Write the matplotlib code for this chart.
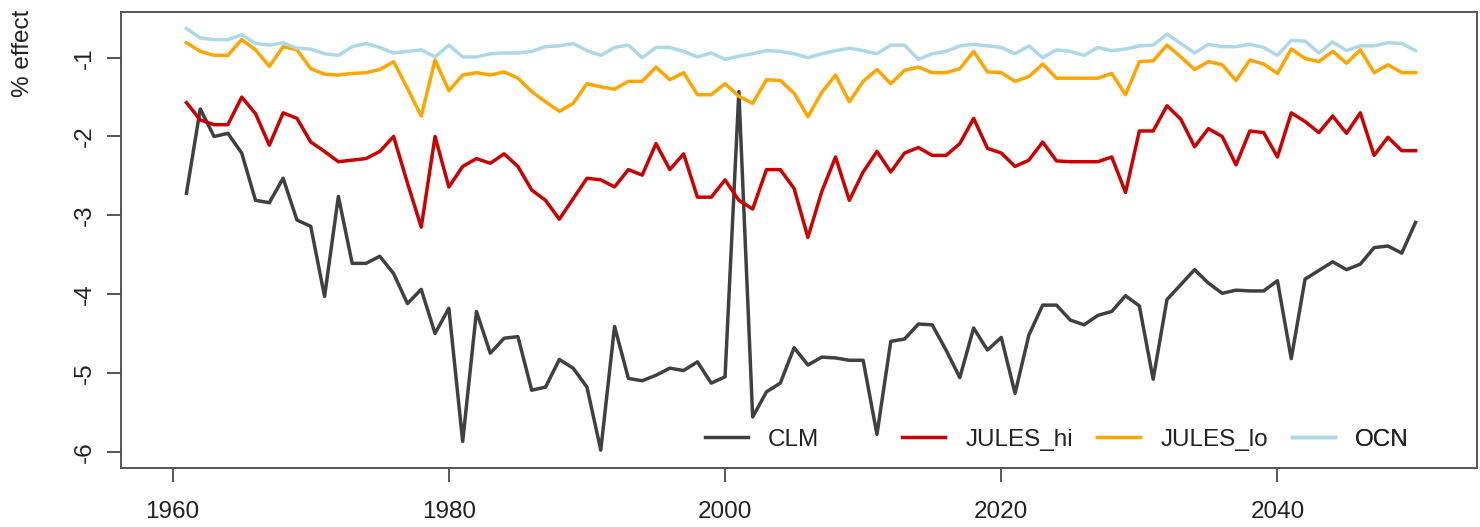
import matplotlib.pyplot as plt
import numpy as np

plt.rcParams['font.family'] = ['Liberation Sans', 'DejaVu Sans']

years = np.arange(1961, 2051)

clm = [-2.72, -1.65, -2.00, -1.96, -2.21, -2.81, -2.84, -2.53, -3.06, -3.14,
       -4.03, -2.76, -3.61, -3.61, -3.52, -3.74, -4.12, -3.94, -4.50, -4.18,
       -5.87, -4.22, -4.75, -4.56, -4.54, -5.22, -5.18, -4.83, -4.94, -5.18,
       -5.98, -4.41, -5.07, -5.10, -5.03, -4.94, -4.97, -4.86, -5.13, -5.05,
       -1.43, -5.56, -5.24, -5.13, -4.68, -4.90, -4.80, -4.81, -4.84, -4.84,
       -5.78, -4.60, -4.57, -4.38, -4.39, -4.71, -5.06, -4.43, -4.71, -4.55,
       -5.26, -4.52, -4.14, -4.14, -4.33, -4.39, -4.27, -4.22, -4.02, -4.15,
       -5.08, -4.07, -3.88, -3.69, -3.86, -3.99, -3.95, -3.96, -3.96, -3.83,
       -4.82, -3.81, -3.70, -3.59, -3.69, -3.62, -3.41, -3.39, -3.48, -3.09]

jules_hi = [-1.57, -1.79, -1.85, -1.85, -1.50, -1.71, -2.11, -1.70, -1.77, -2.07,
            -2.19, -2.32, -2.30, -2.28, -2.19, -2.00, -2.59, -3.15, -2.00, -2.64,
            -2.38, -2.28, -2.34, -2.22, -2.38, -2.68, -2.81, -3.05, -2.79, -2.53,
            -2.55, -2.64, -2.42, -2.49, -2.09, -2.42, -2.22, -2.77, -2.77, -2.55,
            -2.81, -2.92, -2.42, -2.42, -2.66, -3.28, -2.70, -2.26, -2.81, -2.45,
            -2.19, -2.45, -2.21, -2.14, -2.24, -2.24, -2.09, -1.77, -2.15, -2.21,
            -2.38, -2.30, -2.07, -2.31, -2.32, -2.32, -2.32, -2.26, -2.71, -1.93,
            -1.93, -1.61, -1.78, -2.13, -1.90, -2.00, -2.36, -1.93, -1.95, -2.26,
            -1.70, -1.81, -1.95, -1.74, -1.96, -1.70, -2.24, -2.01, -2.18, -2.18]

jules_lo = [-0.81, -0.92, -0.97, -0.97, -0.77, -0.90, -1.11, -0.86, -0.90, -1.14,
            -1.21, -1.22, -1.20, -1.19, -1.15, -1.05, -1.39, -1.74, -1.03, -1.42,
            -1.22, -1.19, -1.22, -1.18, -1.26, -1.43, -1.56, -1.68, -1.58, -1.33,
            -1.37, -1.40, -1.30, -1.30, -1.12, -1.28, -1.19, -1.47, -1.47, -1.33,
            -1.49, -1.58, -1.28, -1.29, -1.45, -1.75, -1.44, -1.22, -1.56, -1.30,
            -1.15, -1.33, -1.16, -1.12, -1.19, -1.19, -1.14, -0.92, -1.18, -1.19,
            -1.30, -1.24, -1.08, -1.26, -1.26, -1.26, -1.26, -1.20, -1.47, -1.05,
            -1.04, -0.84, -0.99, -1.15, -1.05, -1.09, -1.29, -1.03, -1.08, -1.20,
            -0.89, -1.01, -1.05, -0.92, -1.07, -0.90, -1.19, -1.09, -1.19, -1.19]

ocn = [-0.63, -0.75, -0.77, -0.77, -0.71, -0.82, -0.84, -0.81, -0.88, -0.89,
       -0.95, -0.97, -0.86, -0.82, -0.87, -0.94, -0.92, -0.90, -0.99, -0.84,
       -0.99, -0.99, -0.95, -0.94, -0.94, -0.92, -0.86, -0.85, -0.82, -0.91,
       -0.97, -0.87, -0.84, -1.00, -0.87, -0.87, -0.92, -0.99, -0.94, -1.02,
       -0.98, -0.95, -0.91, -0.92, -0.95, -1.00, -0.95, -0.91, -0.88, -0.91,
       -0.95, -0.84, -0.84, -1.02, -0.95, -0.92, -0.85, -0.83, -0.85, -0.87,
       -0.95, -0.85, -1.00, -0.90, -0.92, -0.97, -0.87, -0.91, -0.89, -0.85,
       -0.84, -0.70, -0.82, -0.94, -0.83, -0.86, -0.86, -0.83, -0.87, -0.97,
       -0.78, -0.79, -0.94, -0.80, -0.91, -0.85, -0.85, -0.81, -0.82, -0.91]

series = [('CLM', clm, '#404040'),
          ('JULES_hi', jules_hi, '#CD0000'),
          ('JULES_lo', jules_lo, '#FFA500'),
          ('OCN', ocn, '#ADD8E6')]

x_ticks = [1960, 1980, 2000, 2020, 2040]
y_ticks = [-1, -2, -3, -4, -5, -6]

frame_col = '#555555'
text_col = '#222222'

fig = plt.figure(figsize=(14.8, 5.27), dpi=100)
ax = fig.add_axes([121 / 1480, 1 - 468 / 527, 1356 / 1480, 456 / 527])

lines = []
for name, vals, col in series:
    ln, = ax.plot(years, vals, color=col, linewidth=2.5, label=name)
    lines.append(ln)

ax.set_xlim(1956.26, 2054.45)
ax.set_ylim(-6.207, -0.42)
ax.set_xticks(x_ticks)
ax.set_yticks(y_ticks)
ax.set_xticklabels([str(t) for t in x_ticks])
ax.set_yticklabels([str(t) for t in y_ticks], rotation=90, va='center')

for sp in ax.spines.values():
    sp.set_color(frame_col)
    sp.set_linewidth(1.4)

ax.tick_params(axis='both', colors=frame_col, labelcolor=text_col,
               length=10, width=1.4, labelsize=17.5)
ax.tick_params(axis='x', pad=14)
ax.tick_params(axis='y', pad=8)

fig.text(23 / 1480, 1 - 53 / 527, '% effect', rotation=90, ha='center',
         va='center', fontsize=17.5, color=text_col)

# R-style horizontal legend with equal column widths
col_x = [0.4307, 0.576, 0.7198, 0.8636]
for ln, cx in zip(lines, col_x):
    leg = ax.legend(handles=[ln], loc='center left', bbox_to_anchor=(cx, 0.062),
                    frameon=False, borderpad=0, borderaxespad=0,
                    handlelength=1.75, handletextpad=0.85, fontsize=17.5,
                    labelcolor=text_col)
    ax.add_artist(leg)

fig.savefig('out.png', dpi=100)
